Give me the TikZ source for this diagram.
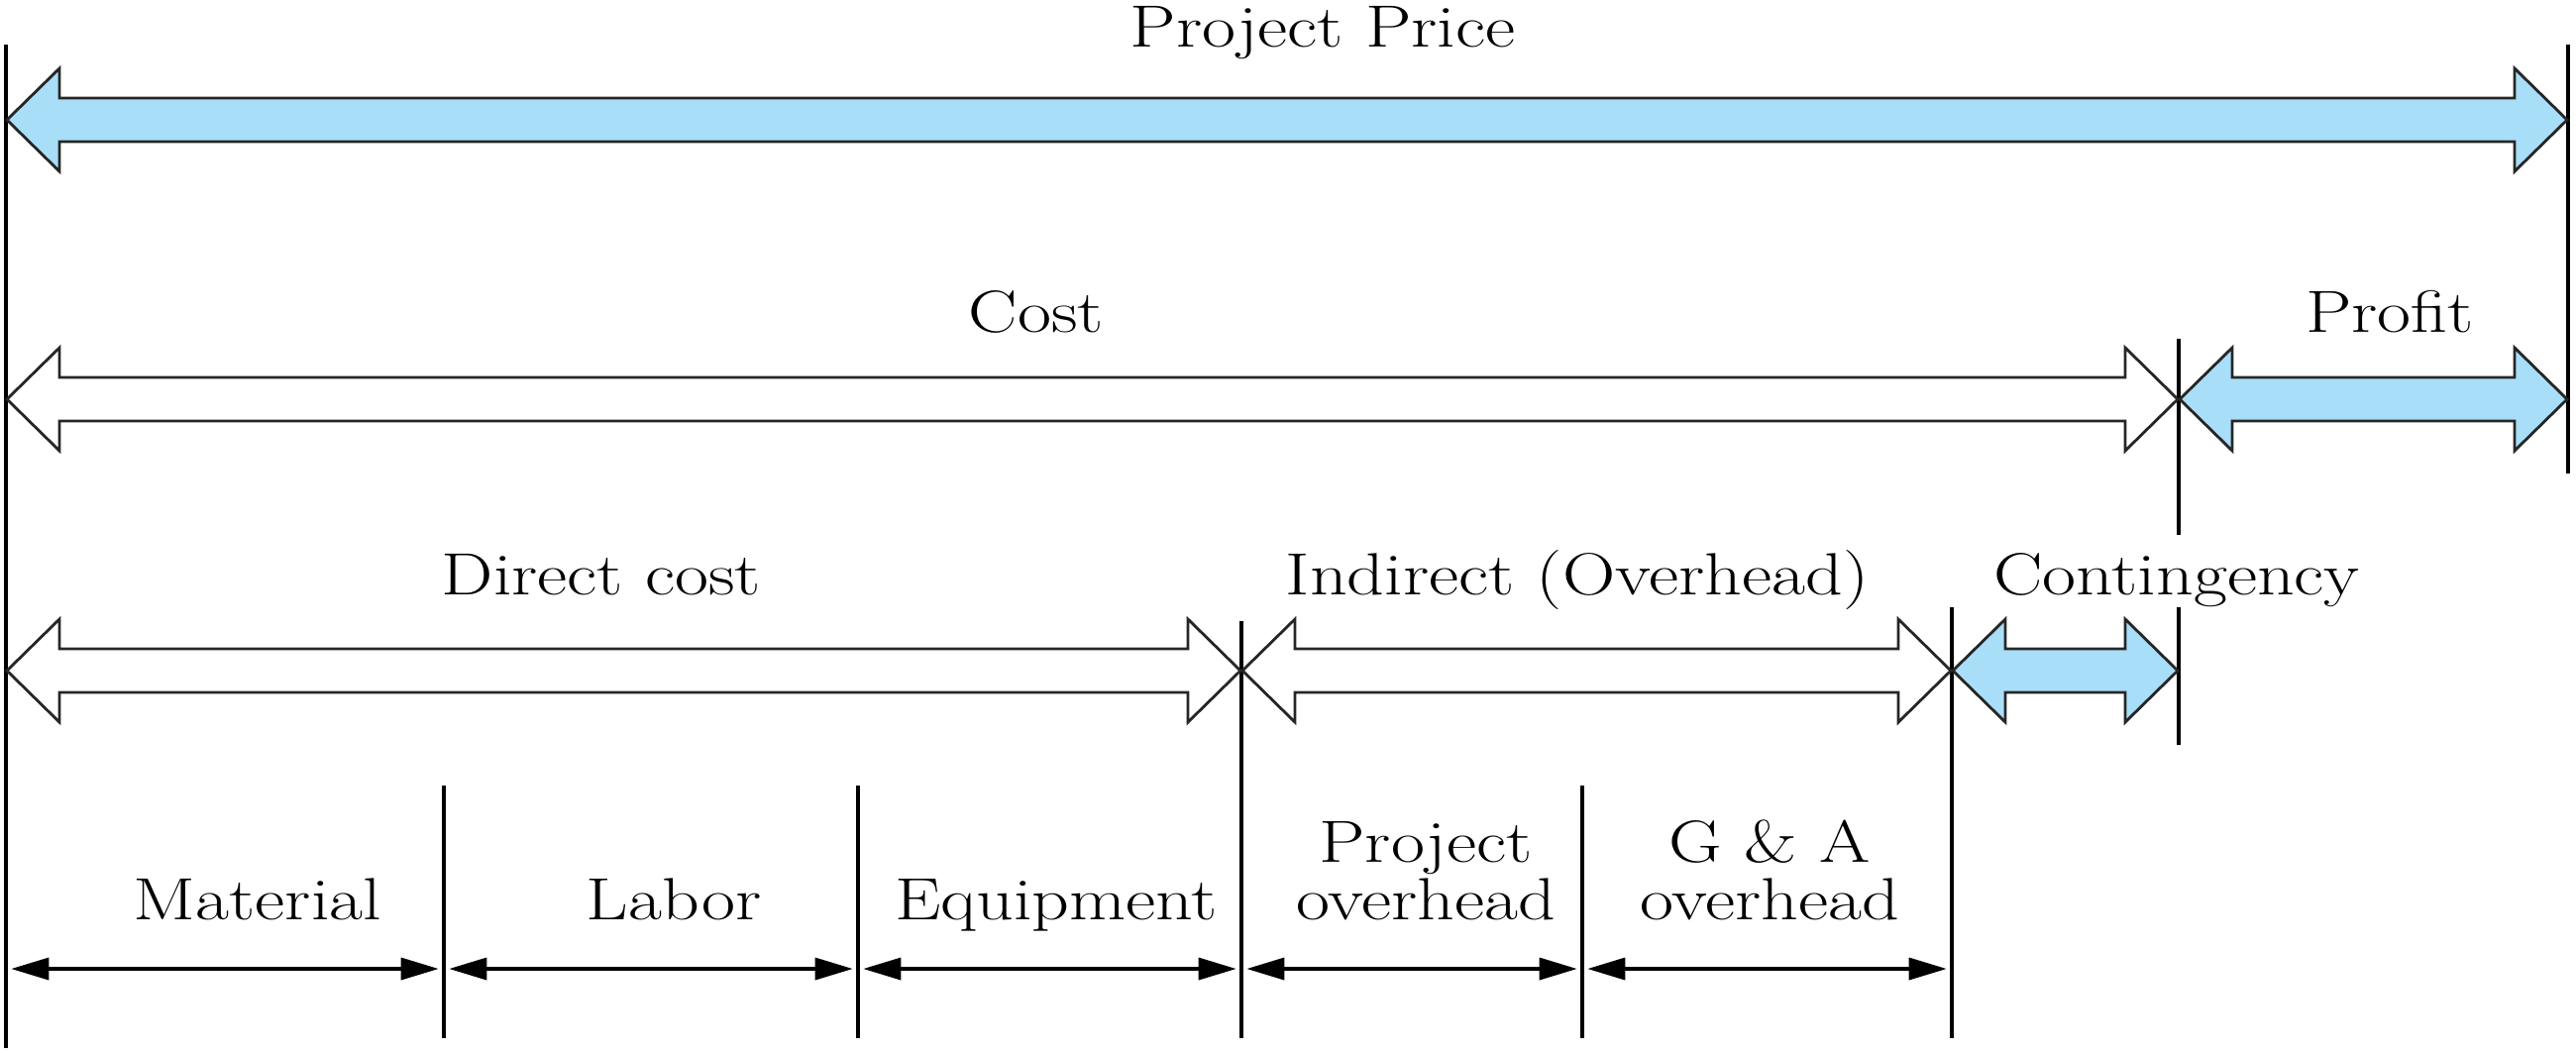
\documentclass[tikz,border=0pt]{standalone}
\usepackage{graphicx}
\usetikzlibrary{arrows.meta}
\definecolor{blockblue}{RGB}{168,222,247}
\newcommand{\wt}[1]{\scalebox{1.23}[1]{#1}}
\newcommand{\blockarrow}[4]{%
  \draw[blk, fill=#1] (#2,#4) -- (#2+53,#4-52) -- (#2+53,#4-22) -- (#3-53,#4-22) -- (#3-53,#4-52)
    -- (#3,#4) -- (#3-53,#4+52) -- (#3-53,#4+22) -- (#2+53,#4+22) -- (#2+53,#4+52) -- cycle;}
\begin{document}
\begin{tikzpicture}[x=0.01cm,y=-0.01cm,
  vline/.style={line width=1pt},
  blk/.style={line width=0.8pt, line join=miter, draw=black!85},
  dimarrow/.style={line width=1pt, {Triangle[length=0.38cm,width=0.22cm]}-{Triangle[length=0.38cm,width=0.22cm]}, shorten <=1.5pt, shorten >=1.5pt},
  lbl/.style={font=\fontsize{17.1}{20}\selectfont, inner sep=0pt, anchor=base}]
\useasboundingbox (0,0) rectangle (2600,1062);
% vertical boundary lines
\coordinate (A0) at (6,45);     \coordinate (A1) at (6,1058);
\coordinate (B0) at (2592,45);  \coordinate (B1) at (2592,478);
\coordinate (C0) at (2199,342); \coordinate (C1) at (2199,540);
\coordinate (D0) at (1253,627); \coordinate (D1) at (1253,1048);
\coordinate (E0) at (1970,613); \coordinate (E1) at (1970,1048);
\coordinate (F0) at (2199,613); \coordinate (F1) at (2199,752);
\coordinate (G0) at (448,793);  \coordinate (G1) at (448,1048);
\coordinate (H0) at (866,793);  \coordinate (H1) at (866,1048);
\coordinate (I0) at (1597,793); \coordinate (I1) at (1597,1048);
\foreach \v in {A,B,C,D,E,F,G,H,I} \draw[vline] (\v0) -- (\v1);
% block arrows
\blockarrow{blockblue}{7}{2591}{121}
\blockarrow{white}{7}{2198}{403}
\blockarrow{blockblue}{2200}{2591}{403}
\blockarrow{white}{7}{1252}{677}
\blockarrow{white}{1254}{1969}{677}
\blockarrow{blockblue}{1971}{2198}{677}
% dimension arrows
\coordinate (r) at (0,978);
\draw[dimarrow] (A0 |- r) -- (G0 |- r);
\draw[dimarrow] (G0 |- r) -- (H0 |- r);
\draw[dimarrow] (H0 |- r) -- (D0 |- r);
\draw[dimarrow] (D0 |- r) -- (I0 |- r);
\draw[dimarrow] (I0 |- r) -- (E0 |- r);
% labels
\node[lbl] (price) at (1335,47) {\wt{Project Price}};
\node[lbl] (cost) at (1046,335) {\wt{Cost}};
\node[lbl] (profit) at (2412,335) {\wt{Profit}};
\node[lbl] (direct) at (607,600) {\wt{Direct cost}};
\node[lbl] (indirect) at (1592,600) {\wt{Indirect (Overhead)}};
\node[lbl] (cont) at (2197,600) {\wt{Contingency}};
\node[lbl] (mat) at (260,928) {\wt{Material}};
\node[lbl] (lab) at (680,928) {\wt{Labor}};
\node[lbl] (equip) at (1066,928) {\wt{Equipment}};
\node[lbl] (po1) at (1439,870) {\wt{Project}};
\node[lbl] (po2) at (1439,928) {\wt{overhead}};
\node[lbl] (ga1) at (1786,870) {\wt{G \& A}};
\node[lbl] (ga2) at (1786,928) {\wt{overhead}};
\end{tikzpicture}
\end{document}
